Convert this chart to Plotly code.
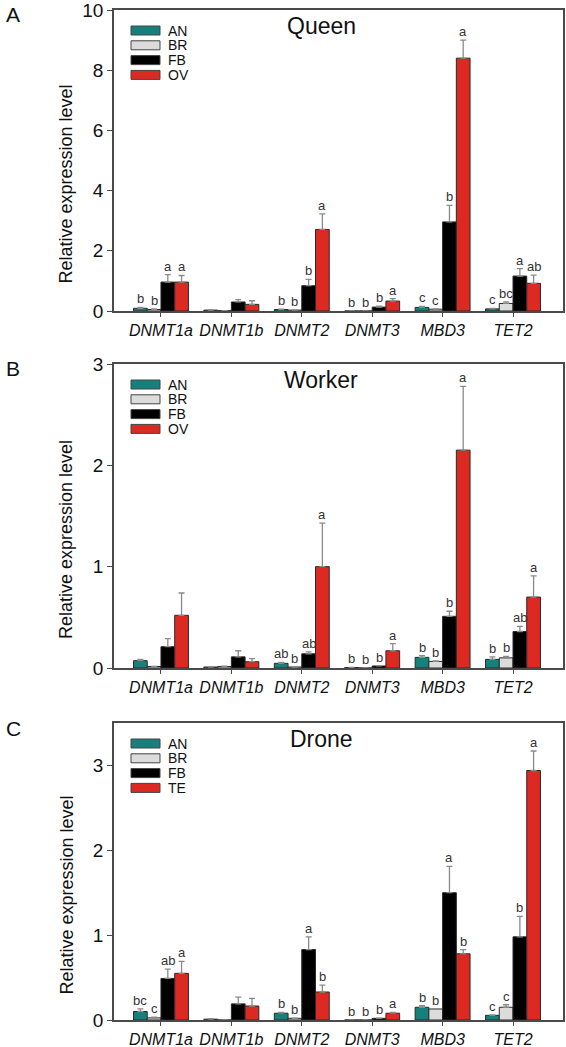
import plotly.graph_objects as go

W, H = 566, 1047

genes = ["DNMT1a", "DNMT1b", "DNMT2", "DNMT3", "MBD3", "TET2"]

# ---- Queen ----
q_names = ["AN", "BR", "FB", "OV"]
q_AN = [0.09, 0.03, 0.05, 0.0, 0.12, 0.07]
q_AN_err = [0.03, 0.01, 0.01, 0.0, 0.03, 0.02]
q_BR = [0.05, 0.01, 0.03, 0.0, 0.06, 0.25]
q_BR_err = [0.02, 0.0, 0.01, 0.0, 0.01, 0.05]
q_FB = [0.96, 0.30, 0.84, 0.13, 2.96, 1.16]
q_FB_err = [0.25, 0.08, 0.21, 0.03, 0.55, 0.25]
q_OV = [0.96, 0.22, 2.71, 0.33, 8.40, 0.92]
q_OV_err = [0.22, 0.12, 0.52, 0.08, 0.60, 0.27]
q_let_AN = ["b", "", "b", "b", "c", "c"]
q_let_BR = ["b", "", "b", "b", "c", "bc"]
q_let_FB = ["a", "", "b", "b", "b", "a"]
q_let_OV = ["a", "", "a", "a", "a", "ab"]

# ---- Worker ----
w_names = ["AN", "BR", "FB", "OV"]
w_AN = [0.072, 0.01, 0.046, 0.005, 0.105, 0.085]
w_AN_err = [0.013, 0.002, 0.009, 0.001, 0.017, 0.025]
w_BR = [0.015, 0.015, 0.01, 0.0, 0.065, 0.10]
w_BR_err = [0.002, 0.003, 0.002, 0.0, 0.006, 0.015]
w_FB = [0.21, 0.11, 0.14, 0.02, 0.51, 0.36]
w_FB_err = [0.08, 0.06, 0.02, 0.004, 0.05, 0.05]
w_OV = [0.52, 0.062, 1.0, 0.17, 2.15, 0.70]
w_OV_err = [0.22, 0.03, 0.43, 0.07, 0.63, 0.21]
w_let_AN = ["", "", "ab", "b", "b", "b"]
w_let_BR = ["", "", "b", "b", "b", "b"]
w_let_FB = ["", "", "ab", "b", "b", "ab"]
w_let_OV = ["", "", "a", "a", "a", "a"]

# ---- Drone ----
d_names = ["AN", "BR", "FB", "TE"]
d_AN = [0.10, 0.01, 0.08, 0.0, 0.15, 0.055]
d_AN_err = [0.03, 0.005, 0.01, 0.0, 0.02, 0.005]
d_BR = [0.025, 0.0, 0.02, 0.0, 0.13, 0.15]
d_BR_err = [0.01, 0.0, 0.003, 0.0, 0.005, 0.03]
d_FB = [0.49, 0.19, 0.83, 0.02, 1.50, 0.98]
d_FB_err = [0.11, 0.08, 0.15, 0.003, 0.31, 0.24]
d_TE = [0.55, 0.165, 0.33, 0.08, 0.78, 2.94]
d_TE_err = [0.14, 0.09, 0.08, 0.01, 0.05, 0.23]
d_let_AN = ["bc", "", "b", "b", "b", "c"]
d_let_BR = ["c", "", "b", "b", "b", "c"]
d_let_FB = ["ab", "", "a", "b", "a", "b"]
d_let_TE = ["a", "", "b", "a", "b", "a"]

colors = ["#16807c", "#dcdcdc", "#000000", "#dc2a22"]

panels = [
    dict(title="Queen", tag="A", names=q_names,
         vals=[q_AN, q_BR, q_FB, q_OV], errs=[q_AN_err, q_BR_err, q_FB_err, q_OV_err],
         lets=[q_let_AN, q_let_BR, q_let_FB, q_let_OV],
         yr=[0, 10], dt=2, top=10, bot=311),
    dict(title="Worker", tag="B", names=w_names,
         vals=[w_AN, w_BR, w_FB, w_OV], errs=[w_AN_err, w_BR_err, w_FB_err, w_OV_err],
         lets=[w_let_AN, w_let_BR, w_let_FB, w_let_OV],
         yr=[0, 3], dt=1, top=364, bot=668),
    dict(title="Drone", tag="C", names=d_names,
         vals=[d_AN, d_BR, d_FB, d_TE], errs=[d_AN_err, d_BR_err, d_FB_err, d_TE_err],
         lets=[d_let_AN, d_let_BR, d_let_FB, d_let_TE],
         yr=[0, 3.5], dt=1, top=723, bot=1020),
]

XL, XR = 114, 563
bargap = 0.22
bw = (1 - bargap) / 4
xpos = list(range(len(genes)))

fig = go.Figure()
annotations = []
shapes = []
font = "Liberation Sans, Arial, sans-serif"
axcol = "#4a4a4a"

def px(x):
    return x / W

def py(y):
    return 1 - y / H

for pi, p in enumerate(panels):
    sfx = "" if pi == 0 else str(pi + 1)
    xa, ya = "x" + sfx, "y" + sfx
    for si in range(4):
        fig.add_trace(go.Bar(
            x=xpos, y=p["vals"][si], name=p["names"][si],
            xaxis=xa, yaxis=ya, showlegend=False,
            marker=dict(color=colors[si], line=dict(color="#2a2a2a", width=1)),
            error_y=dict(type="data", symmetric=False, array=p["errs"][si],
                         arrayminus=[0] * len(genes), color="#8a8a8a",
                         thickness=1.3, width=3),
        ))
        for gi in range(len(genes)):
            t = p["lets"][si][gi]
            if t:
                annotations.append(dict(
                    x=gi + (si - 1.5) * bw, y=p["vals"][si][gi] + p["errs"][si][gi],
                    xref=xa, yref=ya, text=t, showarrow=False,
                    yanchor="bottom", yshift=-1,
                    font=dict(family=font, size=13, color="#333333")))
    dom_y = [py(p["bot"]), py(p["top"])]
    ticks = []
    v = p["yr"][0]
    while v <= p["yr"][1] + 1e-9:
        ticks.append(v)
        v += p["dt"]
    fig.update_layout(**{
        "xaxis" + sfx: dict(domain=[px(XL), px(XR)], range=[-0.667, 5.71],
                            anchor=ya, tickmode="array", tickvals=xpos,
                            ticktext=["<i>%s</i>" % g for g in genes],
                            ticks="outside", ticklen=4, tickcolor=axcol,
                            showline=True, linecolor=axcol, linewidth=1.5,
                            mirror=True, showgrid=False, zeroline=False,
                            tickfont=dict(family=font, size=16, color="#111"),
                            ticklabeloverflow="allow", automargin=False),
        "yaxis" + sfx: dict(domain=dom_y, range=p["yr"], anchor=xa,
                            tickmode="array", tickvals=ticks,
                            ticktext=[("%g" % t) for t in ticks],
                            ticks="outside", ticklen=5, tickcolor=axcol,
                            showline=True, linecolor=axcol, linewidth=1.5,
                            mirror=True, showgrid=False, zeroline=False,
                            tickfont=dict(family=font, size=19, color="#111"),
                            ticklabeloverflow="allow", automargin=False),
    })
    # title
    annotations.append(dict(x=px(321), y=py(p["top"] + 16), xref="paper", yref="paper",
                            text=p["title"], showarrow=False, yanchor="middle",
                            font=dict(family=font, size=23, color="#111")))
    # panel tag
    annotations.append(dict(x=px(13), y=py(p["top"] + 5), xref="paper", yref="paper",
                            text=p["tag"], showarrow=False, yanchor="middle", xanchor="center",
                            font=dict(family=font, size=21, color="#111")))
    # y axis title
    annotations.append(dict(x=px(66), y=py((p["top"] + p["bot"]) / 2 + 24),
                            xref="paper", yref="paper", text="Relative expression level",
                            textangle=-90, showarrow=False, xanchor="center", yanchor="middle",
                            font=dict(family=font, size=18, color="#111")))
    # legend
    for si in range(4):
        cy = p["top"] + 20.5 + si * 14.8
        shapes.append(dict(type="rect", xref="paper", yref="paper",
                           x0=px(131), x1=px(160), y0=py(cy + 4.5), y1=py(cy - 4.5),
                           fillcolor=colors[si], line=dict(color="#444", width=1)))
        annotations.append(dict(x=px(166), y=py(cy), xref="paper", yref="paper",
                                text=p["names"][si], showarrow=False, xanchor="left",
                                yanchor="middle", height=14,
                                font=dict(family=font, size=14, color="#111")))

fig.update_layout(
    width=W, height=H, margin=dict(l=0, r=0, t=0, b=0),
    paper_bgcolor="white", plot_bgcolor="white",
    barmode="group", bargap=bargap, bargroupgap=0,
    annotations=annotations, shapes=shapes,
    font=dict(family=font),
)

fig.write_html("out.html", config={"displayModeBar": False},
               post_script="document.body.style.margin='0';")
